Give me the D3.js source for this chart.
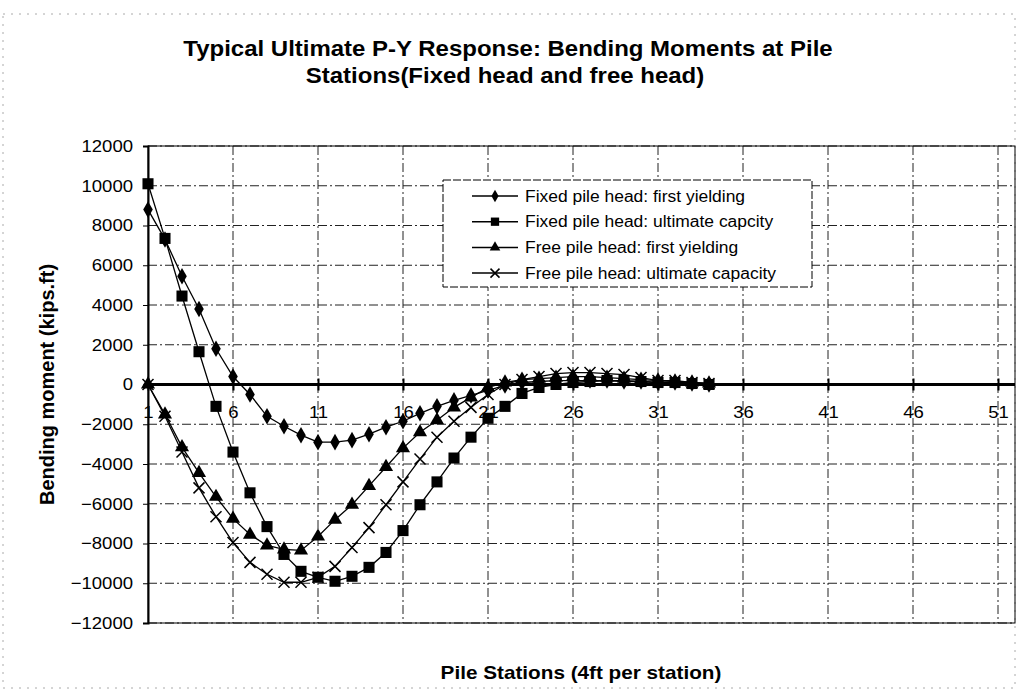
<!DOCTYPE html>
<html>
<head>
<meta charset="utf-8">
<script src="https://cdn.jsdelivr.net/npm/d3@7"></script>
<style>
  body { margin: 0; background: #fff; }
  text { font-family: "Liberation Sans", Arial, sans-serif; fill: #000; }
</style>
</head>
<body>
<svg id="chart" width="1031" height="698"></svg>
<script>
// Chart data (pile stations 1..34)
var stations = d3.range(1, 35);
var fixedFirstYield = [8800, 7300, 5450, 3800, 1800, 400, -500, -1600, -2100, -2550, -2900, -2900, -2800, -2500, -2150, -1850, -1450, -1100, -800, -550, -300, -50, 100, 150, 200, 200, 200, 200, 150, 150, 100, 100, 50, 0];
var fixedUltimate = [10100, 7350, 4450, 1650, -1100, -3400, -5450, -7150, -8550, -9400, -9700, -9900, -9650, -9200, -8450, -7350, -6050, -4900, -3700, -2650, -1700, -1100, -450, -150, 0, 100, 150, 200, 200, 150, 100, 100, 50, 0];
var freeFirstYield = [0, -1500, -3150, -4450, -5650, -6750, -7550, -8100, -8300, -8350, -7650, -6800, -6050, -5100, -4150, -3200, -2400, -1800, -1150, -650, -150, 100, 250, 300, 350, 400, 400, 350, 300, 250, 200, 150, 100, 50];
var freeUltimate = [0, -1600, -3400, -5200, -6650, -7950, -8950, -9550, -9950, -9950, -9700, -9150, -8200, -7200, -6050, -4900, -3750, -2650, -1850, -1150, -500, 0, 250, 400, 550, 600, 600, 550, 500, 350, 200, 200, 100, 50];
var seriesNames = ["Fixed pile head: first yielding", "Fixed pile head: ultimate capcity", "Free pile head: first yielding", "Free pile head: ultimate capacity"];
var xTicks = [1, 6, 11, 16, 21, 26, 31, 36, 41, 46, 51];
var yTicks = d3.range(-12000, 12001, 2000);

var series = [
  { name: seriesNames[0], values: fixedFirstYield, marker: "diamond" },
  { name: seriesNames[1], values: fixedUltimate, marker: "square" },
  { name: seriesNames[2], values: freeFirstYield, marker: "triangle" },
  { name: seriesNames[3], values: freeUltimate, marker: "cross" }
];

var svg = d3.select("#chart");
var plotLeft = 148, plotRight = 1015, plotTop = 146, plotBottom = 623;
var widen = 1.09; // the scan is a bit wider than tall

var x = d3.scaleLinear().domain([1, 52]).range([plotLeft, plotRight]);
var y = d3.scaleLinear().domain([-12000, 12000]).range([plotBottom, plotTop]);

// stretch horizontal texts a little
function stretch(sel) {
  sel.each(function() {
    var w = this.getComputedTextLength();
    d3.select(this).attr("textLength", w * widen).attr("lengthAdjust", "spacingAndGlyphs");
  });
}

// faint outer chart frame
svg.append("rect")
  .attr("x", 3).attr("y", 14).attr("width", 1012).attr("height", 674)
  .style("fill", "none").style("stroke", "#aaa").style("stroke-width", 1)
  .style("stroke-dasharray", "2,6");

// Title
svg.append("text")
  .attr("x", 508).attr("y", 56)
  .attr("text-anchor", "middle")
  .style("font-size", "22px").style("font-weight", "bold")
  .text("Typical Ultimate P-Y Response: Bending Moments at Pile")
  .call(stretch);
svg.append("text")
  .attr("x", 505).attr("y", 83)
  .attr("text-anchor", "middle")
  .style("font-size", "22px").style("font-weight", "bold")
  .text("Stations(Fixed head and free head)")
  .call(stretch);

// Gridlines
svg.append("g").selectAll("line")
  .data(yTicks.filter(function(d) { return d !== 0; }))
  .enter().append("line")
  .attr("x1", plotLeft).attr("x2", plotRight)
  .attr("y1", function(d) { return y(d); }).attr("y2", function(d) { return y(d); })
  .style("stroke", "#222").style("stroke-width", 1)
  .style("stroke-dasharray", "9,3,2,3");

svg.append("g").selectAll("line")
  .data(xTicks.slice(1))
  .enter().append("line")
  .attr("x1", function(d) { return x(d); }).attr("x2", function(d) { return x(d); })
  .attr("y1", plotTop).attr("y2", plotBottom)
  .style("stroke", "#222").style("stroke-width", 1)
  .style("stroke-dasharray", "9,3,2,3");

// Plot frame
svg.append("rect")
  .attr("x", plotLeft).attr("y", plotTop).attr("width", plotRight - plotLeft).attr("height", plotBottom - plotTop)
  .style("fill", "none").style("stroke", "#000").style("stroke-width", 1);

// Y axis
var yAxis = svg.append("g")
  .attr("transform", "translate(" + plotLeft + ",0)")
  .call(d3.axisLeft(y).tickValues(yTicks).tickSize(5).tickPadding(10).tickFormat(d3.format("d")));
yAxis.select(".domain").style("stroke-width", 2);
yAxis.selectAll("text").style("font-size", "17px").style("font-family", "Liberation Sans, Arial, sans-serif").call(stretch);

// X axis drawn along zero
var xAxis = svg.append("g")
  .attr("transform", "translate(0," + y(0) + ")")
  .call(d3.axisBottom(x).tickValues(xTicks).tickSize(6).tickPadding(15));
xAxis.select(".domain").style("stroke-width", 3).attr("d", "M" + plotLeft + ",0H" + plotRight);
xAxis.selectAll(".tick line").attr("y1", -6).attr("y2", 6).style("stroke-width", 2);
xAxis.selectAll("text").style("font-size", "17px").style("font-family", "Liberation Sans, Arial, sans-serif").call(stretch);

// Axis titles
svg.append("text")
  .attr("transform", "translate(54," + ((plotTop + plotBottom) / 2) + ") rotate(-90)")
  .attr("text-anchor", "middle")
  .style("font-size", "20px").style("font-weight", "bold")
  .text("Bending moment (kips.ft)");

svg.append("text")
  .attr("x", 581).attr("y", 679)
  .attr("text-anchor", "middle")
  .style("font-size", "19px").style("font-weight", "bold")
  .text("Pile Stations (4ft per station)")
  .call(stretch);

// marker shapes
function drawMarker(g, type, size) {
  if (type === "cross") {
    var h = size / 2;
    g.append("path")
      .attr("d", "M" + (-h) + "," + (-h) + "L" + h + "," + h + "M" + (-h) + "," + h + "L" + h + "," + (-h))
      .style("stroke", "#000").style("stroke-width", 1.5).style("fill", "none");
  } else {
    var sym = { diamond: d3.symbolDiamond, square: d3.symbolSquare, triangle: d3.symbolTriangle }[type];
    g.append("path")
      .attr("d", d3.symbol().type(sym).size(size * size * (type === "diamond" ? 0.55 : type === "triangle" ? 0.6 : 0.85))())
      .style("fill", "#000");
  }
}

// Lines and markers
var line = d3.line()
  .x(function(d, i) { return x(stations[i]); })
  .y(function(d) { return y(d); });

series.forEach(function(s) {
  svg.append("path")
    .datum(s.values)
    .attr("d", line)
    .style("fill", "none").style("stroke", "#000").style("stroke-width", 1.3);

  svg.append("g").selectAll("g")
    .data(s.values)
    .enter().append("g")
    .attr("transform", function(d, i) { return "translate(" + x(stations[i]) + "," + y(d) + ")"; })
    .each(function() { drawMarker(d3.select(this), s.marker, s.marker === "cross" ? 11 : 12); });
});

// Legend
var legend = svg.append("g");
legend.append("rect")
  .attr("x", 443).attr("y", 180).attr("width", 369).attr("height", 107)
  .style("fill", "#fff").style("stroke", "#000").style("stroke-width", 1)
  .style("stroke-dasharray", "8,2");

var rows = legend.selectAll(".row")
  .data(series)
  .enter().append("g")
  .attr("class", "row")
  .attr("transform", function(d, i) { return "translate(0," + (196 + i * 25.7) + ")"; });

rows.append("line")
  .attr("x1", 472).attr("x2", 518)
  .style("stroke", "#000").style("stroke-width", 1.5);

rows.each(function(d) {
  var g = d3.select(this).append("g").attr("transform", "translate(495,0)");
  drawMarker(g, d.marker, 9);
});

rows.append("text")
  .attr("x", 525).attr("dy", "0.35em")
  .style("font-size", "16px")
  .text(function(d) { return d.name; })
  .call(stretch);
</script>
</body>
</html>
